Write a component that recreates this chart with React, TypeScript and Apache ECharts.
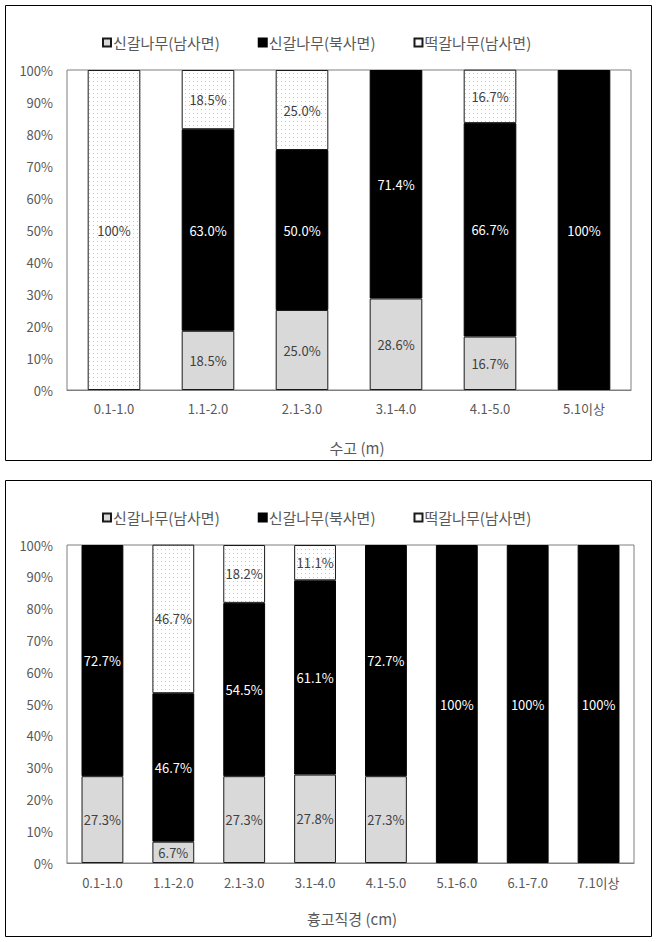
import React, { useEffect, useRef } from "react";
import * as echarts from "echarts";

const seriesNames = ["신갈나무(남사면)", "신갈나무(북사면)", "떡갈나무(남사면)"];

const heightCategories = ["0.1-1.0", "1.1-2.0", "2.1-3.0", "3.1-4.0", "4.1-5.0", "5.1이상"];
const heightSouthSingal = [0, 18.5, 25.0, 28.6, 16.7, 0];
const heightNorthSingal = [0, 63.0, 50.0, 71.4, 66.7, 100];
const heightSouthTteok = [100, 18.5, 25.0, 0, 16.7, 0];

const dbhCategories = ["0.1-1.0", "1.1-2.0", "2.1-3.0", "3.1-4.0", "4.1-5.0", "5.1-6.0", "6.1-7.0", "7.1이상"];
const dbhSouthSingal = [27.3, 6.7, 27.3, 27.8, 27.3, 0, 0, 0];
const dbhNorthSingal = [72.7, 46.7, 54.5, 61.1, 72.7, 100, 100, 100];
const dbhSouthTteok = [0, 46.7, 18.2, 11.1, 0, 0, 0, 0];

const FONT = "'Noto Sans CJK KR', 'Noto Sans', sans-serif";
const GRAY_TEXT = "#595959";

export default function App() {
  const ref = useRef<HTMLDivElement>(null);
  useEffect(() => {
    if (!ref.current) return;
    const chart = echarts.init(ref.current, undefined, { renderer: "svg" });

    const cv = document.createElement("canvas");
    cv.width = 4;
    cv.height = 4;
    const ctx = cv.getContext("2d")!;
    ctx.fillStyle = "#ffffff";
    ctx.fillRect(0, 0, 4, 4);
    ctx.fillStyle = "#c8c8c8";
    ctx.fillRect(1, 1, 1, 1);
    const dotPattern: any = { image: cv, repeat: "repeat" };

    const fmt = (p: any) =>
      p.value === 100 ? "100%" : Number(p.value).toFixed(1) + "%";
    const nz = (arr: number[]) => arr.map((v) => (v === 0 ? "-" : v));

    const makeSeries = (idx: number, south: number[], north: number[], tteok: number[], stack: string) => {
      const bw = idx === 0 ? "56%" : "59%";
      const lbl = (color: string) => ({ show: true, position: "inside", formatter: fmt, color, fontSize: 13, fontFamily: FONT });
      return [
        {
          name: seriesNames[0], type: "bar", stack, xAxisIndex: idx, yAxisIndex: idx, barWidth: bw,
          data: nz(south),
          itemStyle: { color: "#d9d9d9", borderColor: "#1a1a1a", borderWidth: 1 },
          label: lbl("#404040"),
        },
        {
          name: seriesNames[1], type: "bar", stack, xAxisIndex: idx, yAxisIndex: idx, barWidth: bw,
          data: nz(north),
          itemStyle: { color: "#000000", borderColor: "#000000", borderWidth: 1 },
          label: lbl("#ffffff"),
        },
        {
          name: seriesNames[2], type: "bar", stack, xAxisIndex: idx, yAxisIndex: idx, barWidth: bw,
          data: nz(tteok),
          itemStyle: { color: dotPattern, borderColor: "#1a1a1a", borderWidth: 1 },
          label: lbl("#404040"),
        },
      ];
    };

    const legendBase = {
      data: seriesNames,
      icon: "rect",
      itemWidth: 8,
      itemHeight: 8,
      itemGap: 38,
      left: 97,
      textStyle: { color: GRAY_TEXT, fontSize: 15, fontFamily: FONT, padding: [0, 0, 0, -3] },
      selectedMode: false,
    };

    const xAxisBase = (cats: string[], gridIndex: number, margin: number) => ({
      type: "category",
      gridIndex,
      data: cats,
      axisLine: { show: true, lineStyle: { color: "#7f7f7f" } },
      axisTick: { show: false },
      axisLabel: { color: GRAY_TEXT, fontSize: 13, fontFamily: FONT, margin },
    });

    const yAxisBase = (gridIndex: number) => ({
      type: "value",
      gridIndex,
      min: 0,
      max: 100,
      interval: 10,
      axisLine: { show: false },
      axisTick: { show: false },
      splitLine: { show: false },
      axisLabel: { formatter: "{value}%", color: GRAY_TEXT, fontSize: 13, fontFamily: FONT, margin: 14 },
    });

    chart.setOption({
      animation: false,
      backgroundColor: "#ffffff",
      legend: [
        { ...legendBase, top: 30 },
        { ...legendBase, top: 505 },
      ],
      grid: [
        { left: 67, top: 70, width: 564, height: 320, show: true, borderColor: "#7f7f7f", borderWidth: 1 },
        { left: 67, top: 545, width: 567, height: 318, show: true, borderColor: "#7f7f7f", borderWidth: 1 },
      ],
      xAxis: [xAxisBase(heightCategories, 0, 12), xAxisBase(dbhCategories, 1, 13)],
      yAxis: [yAxisBase(0), yAxisBase(1)],
      series: [
        ...makeSeries(0, heightSouthSingal, heightNorthSingal, heightSouthTteok, "h"),
        ...makeSeries(1, dbhSouthSingal, dbhNorthSingal, dbhSouthTteok, "d"),
      ],
      graphic: [
        { type: "rect", shape: { x: 5.5, y: 5.5, width: 646, height: 455 }, style: { fill: "none", stroke: "#000", lineWidth: 1 }, silent: true },
        { type: "rect", shape: { x: 5.5, y: 480.5, width: 646, height: 456 }, style: { fill: "none", stroke: "#000", lineWidth: 1 }, silent: true },
        { type: "text", x: 357, y: 447, style: { text: "수고 (m)", fill: GRAY_TEXT, font: `15px ${FONT}`, textAlign: "center", textVerticalAlign: "middle" } },
        { type: "text", x: 352, y: 918, style: { text: "흉고직경 (cm)", fill: GRAY_TEXT, font: `15px ${FONT}`, textAlign: "center", textVerticalAlign: "middle" } },
      ],
    });
    return () => chart.dispose();
  }, []);
  return <div ref={ref} style={{ position: "absolute", left: 0, top: 0, width: 658, height: 942 }} />;
}
